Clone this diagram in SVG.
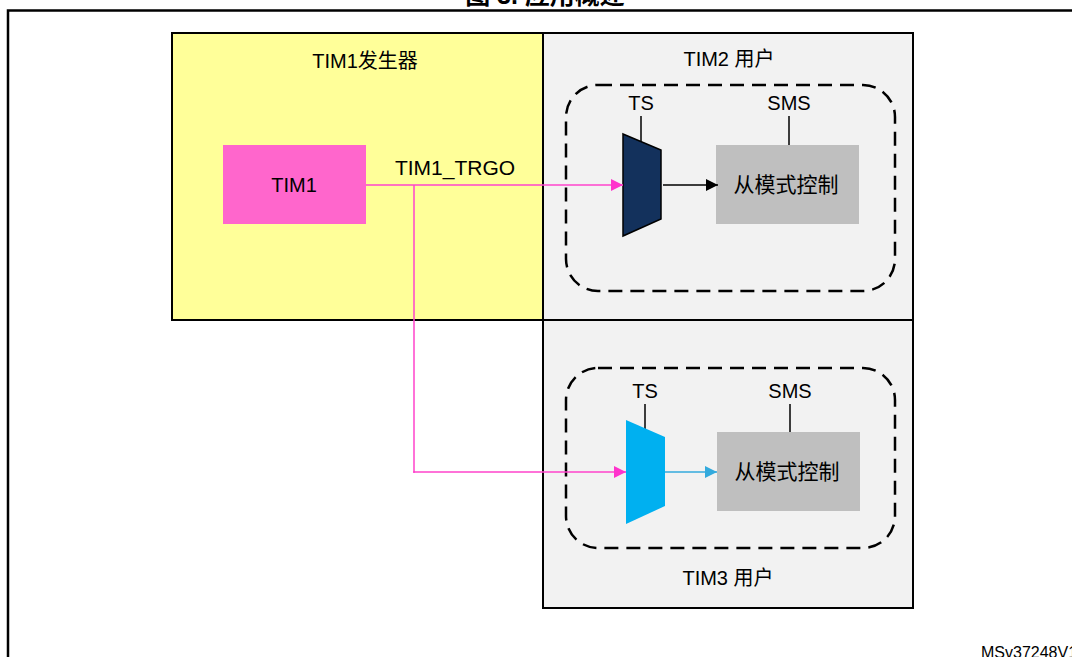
<svg xmlns="http://www.w3.org/2000/svg" width="1072" height="657" viewBox="0 0 1072 657">
<defs>
<style>
text{font-family:"Liberation Sans","Noto Sans CJK SC",Arial,sans-serif;fill:#000}
.t{font-size:20px;text-anchor:middle}
.c{font-size:21px;text-anchor:middle}
.box{stroke:#000;stroke-width:2}
.dash{fill:none;stroke:#000;stroke-width:2.5;stroke-dasharray:14,8}
.pink{fill:none;stroke:#FF44CC;stroke-width:1.5}
.lead{stroke:#000;stroke-width:1.5}
</style>
<marker id="ap" viewBox="0 0 10 10" refX="10" refY="5" markerWidth="12" markerHeight="12" markerUnits="userSpaceOnUse" orient="auto"><path d="M0,0L10,5L0,10z" fill="#FF33CC"/></marker>
<marker id="ak" viewBox="0 0 10 10" refX="10" refY="5" markerWidth="12" markerHeight="12" markerUnits="userSpaceOnUse" orient="auto"><path d="M0,0L10,5L0,10z" fill="#000"/></marker>
<marker id="ab" viewBox="0 0 10 10" refX="10" refY="5" markerWidth="12" markerHeight="12" markerUnits="userSpaceOnUse" orient="auto"><path d="M0,0L10,5L0,10z" fill="#33AADD"/></marker>
</defs>
<rect width="1072" height="657" fill="#fff"/>
<text x="545" y="4" style="font-size:25px;font-weight:bold;text-anchor:middle">图 3. 应用概述</text>
<path d="M8,657V10.5H1072" fill="none" stroke="#000" stroke-width="2.5"/>
<g id="tim1gen">
<rect class="box" x="172" y="33" width="371" height="287" fill="#FFFF99"/>
<text class="t" x="365" y="68">TIM1发生器</text>
</g>
<g id="tim2user">
<rect class="box" x="543" y="33" width="370" height="287" fill="#F2F2F2"/>
<text class="t" x="729" y="66">TIM2 用户</text>
<rect class="dash" x="566" y="85" width="329" height="206" rx="32"/>
</g>
<g id="tim3user">
<rect class="box" x="543" y="320" width="370" height="288" fill="#F2F2F2"/>
<text class="t" x="728" y="585">TIM3 用户</text>
<rect class="dash" x="566" y="368" width="329" height="180" rx="32"/>
</g>
<g id="tim1">
<rect x="223" y="145" width="143" height="79" fill="#FF66CC"/>
<text class="t" x="294" y="192">TIM1</text>
</g>
<g id="mux2">
<text class="t" x="641" y="110">TS</text>
<line class="lead" x1="641" y1="116" x2="641" y2="141"/>
<polygon points="623,134 661,150 661,219 623,236" fill="#13315C" stroke="#000" stroke-width="1.5"/>
</g>
<g id="sms2">
<text class="t" x="789" y="110">SMS</text>
<line class="lead" x1="789" y1="116" x2="789" y2="145"/>
<rect x="716" y="145" width="143" height="79" fill="#BFBFBF"/>
<text class="c" x="786" y="192">从模式控制</text>
</g>
<g id="mux3">
<text class="t" x="645" y="398">TS</text>
<line class="lead" x1="645" y1="404" x2="645" y2="430"/>
<polygon points="626,420 665,437 665,506 626,524" fill="#00B0F0"/>
</g>
<g id="sms3">
<text class="t" x="790" y="398">SMS</text>
<line class="lead" x1="790" y1="404" x2="790" y2="432"/>
<rect x="717" y="432" width="143" height="79" fill="#BFBFBF"/>
<text class="c" x="787" y="479">从模式控制</text>
</g>
<g id="connectors">
<text class="c" x="455" y="175">TIM1_TRGO</text>
<path class="pink" d="M366,185H623" marker-end="url(#ap)"/>
<path class="pink" d="M414,185V472H626" marker-end="url(#ap)"/>
<path class="pink" d="M413,472H415"/>
<path d="M663,185H718" stroke="#000" stroke-width="1.5" marker-end="url(#ak)"/>
<path d="M665,472H717" stroke="#33AADD" stroke-width="1.5" marker-end="url(#ab)"/>
</g>
<text x="981" y="658" style="font-size:16px">MSv37248V1</text>
</svg>
